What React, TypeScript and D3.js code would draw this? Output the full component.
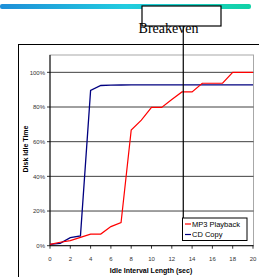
import React from "react";
import * as d3 from "d3";

const xValues = [0, 1, 2, 3, 4, 5, 6, 7, 8, 9, 10, 11, 12, 13, 14, 15, 16, 17, 18, 19, 20];
const mp3Playback = [0.008, 0.02, 0.029, 0.048, 0.067, 0.067, 0.11, 0.134, 0.667, 0.724, 0.798, 0.798, 0.843, 0.887, 0.887, 0.937, 0.937, 0.937, 1.0, 1.0, 1.0];
const cdCopy = [0.008, 0.014, 0.046, 0.056, 0.895, 0.924, 0.926, 0.927, 0.928, 0.928, 0.928, 0.928, 0.928, 0.928, 0.928, 0.928, 0.928, 0.928, 0.928, 0.928, 0.928];
const xTicks = [0, 2, 4, 6, 8, 10, 12, 14, 16, 18, 20];
const yTicks = [0, 0.2, 0.4, 0.6, 0.8, 1.0];
const breakevenX = 13.13;
const seriesNames = ["MP3 Playback", "CD Copy"];
const seriesColors = ["#ff0000", "#000080"];

export default function App() {
  const x = d3.scaleLinear().domain([0, 20]).range([50, 253]);
  const y = d3.scaleLinear().domain([0, 1.1]).range([245.7, 55]);
  const line = d3
    .line<number>()
    .x((_, i) => x(xValues[i]))
    .y((d) => y(d));
  const pct = d3.format(".0%");
  const bx = x(breakevenX);
  const sans = "'Liberation Sans', Arial, sans-serif";

  return (
    <svg
      width={259}
      height={277}
      style={{ position: "absolute", left: 0, top: 0, background: "#fff" }}
    >
      <defs>
        <linearGradient id="bar" x1="0" x2="1" y1="0" y2="0">
          <stop offset="0" stopColor="#1e8fd8" />
          <stop offset="0.5" stopColor="#22cce0" />
          <stop offset="1" stopColor="#12d2a6" />
        </linearGradient>
      </defs>
      <rect x={0} y={4} width={251} height={5} rx={2} fill="url(#bar)" />

      {/* outer frame */}
      <line x1={18.5} x2={18.5} y1={44} y2={277} stroke="#000" strokeWidth={1} />
      <line x1={18} x2={259} y1={44.5} y2={44.5} stroke="#000" strokeWidth={1} />

      {/* plot area border */}
      <rect x={50} y={55} width={203.5} height={190.7} fill="none" stroke="#a8a8a8" strokeWidth={1} />

      {/* gridlines */}
      {yTicks.slice(1).map((t) => (
        <line key={t} x1={50} x2={253.5} y1={y(t)} y2={y(t)} stroke="#404040" strokeWidth={1} />
      ))}

      {/* axes */}
      <line x1={50} x2={50} y1={55} y2={245.7} stroke="#000" strokeWidth={1} />
      <line x1={50} x2={253.5} y1={245.7} y2={245.7} stroke="#000" strokeWidth={1} />
      {yTicks.map((t) => (
        <g key={t}>
          <line x1={47} x2={50} y1={y(t)} y2={y(t)} stroke="#000" strokeWidth={0.8} />
          <text x={45} y={y(t) + 2.2} fontSize={6} fontFamily={sans} textAnchor="end" fill="#333">
            {pct(t)}
          </text>
        </g>
      ))}
      {xTicks.map((t) => (
        <g key={t}>
          <line x1={x(t)} x2={x(t)} y1={245.7} y2={248.7} stroke="#000" strokeWidth={0.8} />
          <text x={x(t)} y={260.5} fontSize={6} fontFamily={sans} textAnchor="middle" fill="#333">
            {t}
          </text>
        </g>
      ))}

      <text
        transform={`translate(27.5,149) rotate(-90)`}
        fontSize={7}
        fontWeight="bold"
        fontFamily={sans}
        textAnchor="middle"
        fill="#000"
      >
        Disk Idle Time
      </text>
      <text x={151} y={273} fontSize={7} fontWeight="bold" fontFamily={sans} textAnchor="middle" fill="#000">
        Idle Interval Length (sec)
      </text>

      {/* series */}
      <path d={line(cdCopy) || ""} fill="none" stroke={seriesColors[1]} strokeWidth={1.3} />
      <path d={line(mp3Playback) || ""} fill="none" stroke={seriesColors[0]} strokeWidth={1.2} />

      {/* breakeven */}
      <line x1={bx} x2={bx} y1={26} y2={240.5} stroke="#000" strokeWidth={1.2} />
      <rect x={142} y={6} width={79} height={20} fill="#fff" stroke="#000" strokeWidth={1.2} />
      <text
        x={168.5}
        y={33}
        fontSize={14}
        fontFamily="'Liberation Serif', 'Times New Roman', serif"
        textAnchor="middle"
        fill="#000"
      >
        Breakeven
      </text>

      {/* legend */}
      <rect x={182.5} y={218} width={64.5} height={22.5} fill="#fff" stroke="#000" strokeWidth={1} />
      {seriesNames.map((n, i) => (
        <g key={n}>
          <line x1={185} x2={191} y1={224 + i * 10.5} y2={224 + i * 10.5} stroke={seriesColors[i]} strokeWidth={1.2} />
          <text x={192} y={226.8 + i * 10.5} fontSize={7.5} fontFamily={sans} fill="#000">
            {n}
          </text>
        </g>
      ))}
    </svg>
  );
}
